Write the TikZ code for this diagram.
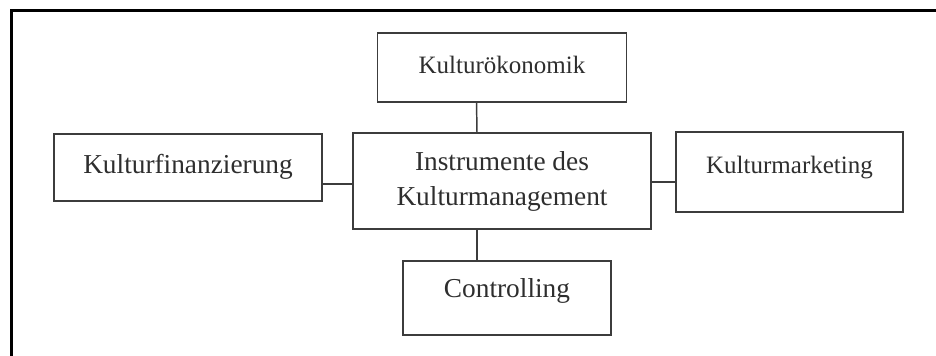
\documentclass[tikz,border=0pt]{standalone}
\usepackage{fontspec}
\setmainfont{Liberation Serif}
\usetikzlibrary{positioning}
\definecolor{linegray}{HTML}{3C3C3C}
\definecolor{textgray}{HTML}{2E2E2E}

\begin{document}
\begin{tikzpicture}[x=0.75pt,y=-0.75pt,
		main node/.style={rectangle,draw=linegray,line width=1.1pt,outer sep=0pt,inner sep=0pt,
			text=textgray,font=\fontsize{20.5}{26.25}\selectfont},
		small node/.style={main node,font=\fontsize{18.75}{24}\selectfont,text height=13.1pt}]
	
	\useasboundingbox (0,0) rectangle (936,356);
	\draw[line width=2.25pt] (11,356) -- (11,11) -- (936,11);
	
	\node[main node,align=center,minimum width=223.5pt,minimum height=72pt] (1) at (502,181) {Instrumente des\\Kulturmanagement};
	\node[small node,text depth=3.7pt,minimum width=186.75pt,minimum height=51.75pt] (2) [above=23.25pt of 1] {Kulturökonomik};
	\node[main node,text height=14.35pt,text depth=15.8pt,minimum width=156pt,minimum height=55.5pt] (3) [below=24pt of 1, xshift=3.75pt] {Controlling};
	\node[main node,text height=14.35pt,text depth=5.3pt,minimum width=201pt,minimum height=50.25pt] (4) [left=23.25pt of 1, yshift=10.1pt] {Kulturfinanzierung};
	\node[small node,text depth=11.2pt,minimum width=170.25pt,minimum height=60pt] (5) [right=18.75pt of 1, yshift=6.75pt] {Kulturmarketing};
	
	\path[every edge/.style={draw=linegray,line width=1.1pt}]
	([xshift=-18.75pt]1.north) edge ([xshift=-19.1pt]2.south)
	([xshift=-18.75pt]1.south) edge ([xshift=-22.5pt]3.north)
	([yshift=-2.25pt]1.west) edge ([yshift=-12.35pt]4.east)
	([yshift=-0.75pt]1.east) edge ([yshift=-7.5pt]5.west);
\end{tikzpicture}
\end{document}
